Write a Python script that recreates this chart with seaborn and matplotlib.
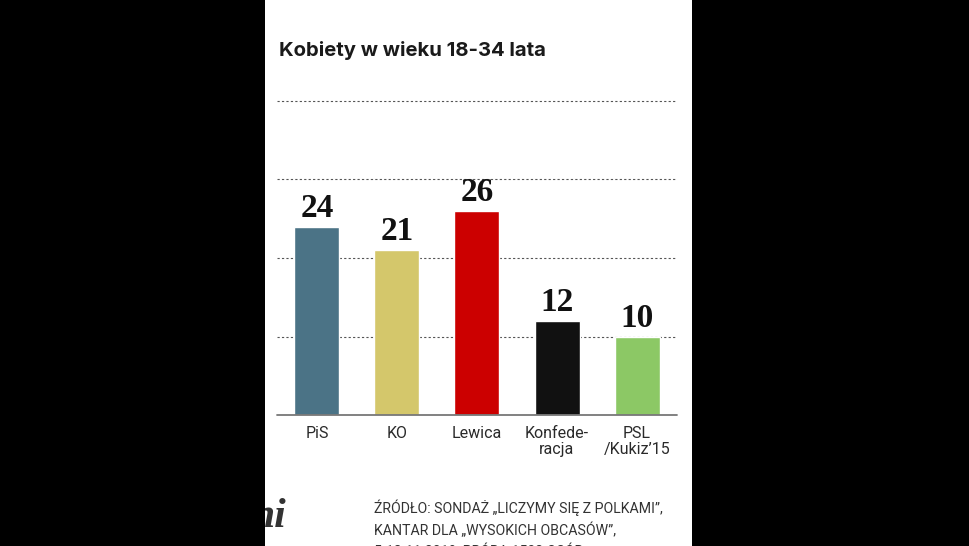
import matplotlib
matplotlib.use('Agg')
import matplotlib.pyplot as plt
import seaborn as sns
import pandas as pd

# data
parties = ['PiS', 'KO', 'Lewica', 'Konfede-\nracja', 'PSL\n/Kukiz\u201915']
values = [24, 21, 26, 12, 10]
colors = ['#4b7386', '#d4c76b', '#cc0000', '#111111', '#8cc865']
title = 'Kobiety w wieku 18-34 lata'
source = ['\u0179R\u00d3D\u0141O: SONDA\u017b \u201eLICZYMY SI\u0118 Z POLKAMI\u201d,',
          'KANTAR DLA \u201eWYSOKICH OBCAS\u00d3W\u201d,',
          '5-12.11.2019, PR\u00d3BA 1502 OS\u00d3B']

df = pd.DataFrame({'party': parties, 'value': values})

sns.set_theme(style='white')
W, H = 970, 546
fig = plt.figure(figsize=(9.7, 5.46), dpi=100)
fig.patch.set_facecolor('white')

ax = fig.add_axes([277 / W, 1 - 415 / H, 400 / W, 314 / H])
sns.barplot(data=df, x='party', y='value', hue='party', palette=colors,
            legend=False, width=0.5625, saturation=1, ax=ax)
ax.set_xlim(-0.5, 4.5)
ax.set_ylim(0, 40)
ax.set_facecolor('none')
for s in ax.spines.values():
    s.set_visible(False)
ax.set_yticks([])
ax.set_xlabel('')
ax.set_ylabel('')
ax.tick_params(axis='x', length=0, pad=8, labelsize=11.5, labelcolor='#2a2a2a')
for lbl in ax.get_xticklabels():
    lbl.set_family(['Roboto', 'DejaVu Sans'])
    lbl.set_linespacing(1.1)

# grid
for g in [10, 20, 30, 40]:
    ax.axhline(g, color='#555555', lw=0.8, ls=(0, (2, 2)), zorder=0, clip_on=False)
ax.axhline(0, color='#777777', lw=1.3, zorder=3, clip_on=False)

# value labels
for i, v in enumerate(values):
    ax.annotate(str(v), (i, v), xytext=(0, 7), textcoords='offset points',
                ha='center', va='baseline', fontsize=24, fontweight='bold',
                family=['Liberation Serif', 'DejaVu Serif'], color='#111111')

fig.text(279 / W, 1 - 50 / H, title, ha='left', va='center', fontsize=14.6,
         fontweight='bold', family=['Inter', 'DejaVu Sans'], color='#1a1a1a')

for k, line in enumerate(source):
    fig.text(374 / W, 1 - (508 + 22 * k) / H, line, ha='left', va='center',
             fontsize=10.2, family=['Liberation Sans Narrow', 'Roboto', 'DejaVu Sans'],
             color='#333333')

# logo fragment
fig.text(286 / W, 1 - 527 / H, 'ni', ha='right', va='baseline', fontsize=30,
         fontweight='bold', style='italic', family=['Liberation Serif', 'DejaVu Serif'],
         color='#333333')

# black side margins
fig.patches.append(plt.Rectangle((0, 0), 265 / W, 1, transform=fig.transFigure,
                                 facecolor='black', edgecolor='none', zorder=10))
fig.patches.append(plt.Rectangle((692 / W, 0), 1 - 692 / W, 1, transform=fig.transFigure,
                                 facecolor='black', edgecolor='none', zorder=10))

fig.savefig('out.png', dpi=100)
